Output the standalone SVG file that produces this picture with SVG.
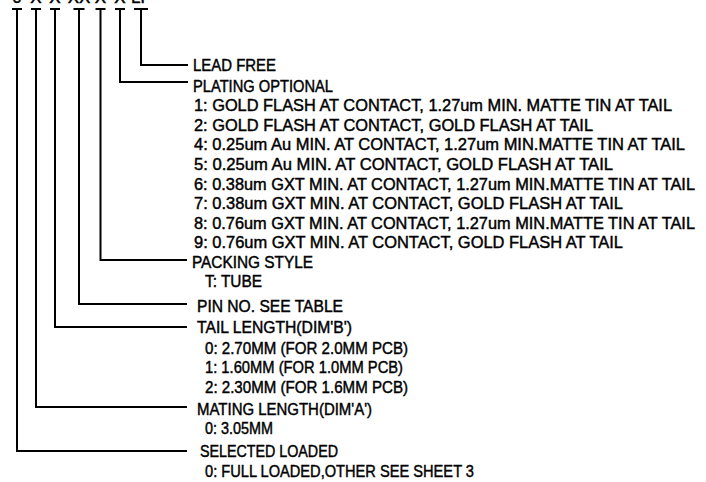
<svg xmlns="http://www.w3.org/2000/svg" width="706" height="482" viewBox="0 0 706 482">
<style>
  .t { font-family: "Liberation Sans", "DejaVu Sans", sans-serif; font-size: 17px; fill: #000; stroke: #000; stroke-width: 0.45px; }
  .c { fill: none; stroke: #000; stroke-width: 2; stroke-linecap: butt; }
</style>
<rect width="706" height="482" fill="#fff"/>
<g id="code">
  <text class="t" x="17" y="2.5" text-anchor="middle">0</text>
  <text class="t" x="36" y="2.5" text-anchor="middle">X</text>
  <text class="t" x="55" y="2.5" text-anchor="middle">X</text>
  <text class="t" x="79" y="2.5" text-anchor="middle">XX</text>
  <text class="t" x="100.5" y="2.5" text-anchor="middle">X</text>
  <text class="t" x="120" y="2.5" text-anchor="middle">X</text>
  <text class="t" x="141" y="2.5" text-anchor="middle">LF</text>
</g>
<g id="connectors">
  <path class="c" d="M12,9H22 M17,9V451H187"/>
  <path class="c" d="M31,9H41 M36,9V407H187"/>
  <path class="c" d="M50,9H60 M55,9V327H187"/>
  <path class="c" d="M73.5,9H84.5 M79,9V304H187"/>
  <path class="c" d="M95.5,9H105.5 M100.5,9V260H187"/>
  <path class="c" d="M115,9H125 M120,9V82H188"/>
  <path class="c" d="M134,9H148 M141,9V65H188"/>
</g>
<g id="lead-free">
  <text class="t" x="193" y="70.5" textLength="83" lengthAdjust="spacingAndGlyphs">LEAD FREE</text>
</g>
<g id="plating">
  <text class="t" x="193" y="92" textLength="140" lengthAdjust="spacingAndGlyphs">PLATING OPTIONAL</text>
  <text class="t" x="194" y="111" textLength="478" lengthAdjust="spacingAndGlyphs">1: GOLD FLASH AT CONTACT, 1.27um MIN. MATTE TIN AT TAIL</text>
  <text class="t" x="194" y="130.5" textLength="399" lengthAdjust="spacingAndGlyphs">2: GOLD FLASH AT CONTACT, GOLD FLASH AT TAIL</text>
  <text class="t" x="194" y="150" textLength="491" lengthAdjust="spacingAndGlyphs">4: 0.25um Au MIN. AT CONTACT, 1.27um MIN.MATTE TIN AT TAIL</text>
  <text class="t" x="194" y="170" textLength="419" lengthAdjust="spacingAndGlyphs">5: 0.25um Au MIN. AT CONTACT, GOLD FLASH AT TAIL</text>
  <text class="t" x="194" y="189.5" textLength="501" lengthAdjust="spacingAndGlyphs">6: 0.38um GXT MIN. AT CONTACT, 1.27um MIN.MATTE TIN AT TAIL</text>
  <text class="t" x="194" y="209" textLength="429" lengthAdjust="spacingAndGlyphs">7: 0.38um GXT MIN. AT CONTACT, GOLD FLASH AT TAIL</text>
  <text class="t" x="194" y="228.5" textLength="501" lengthAdjust="spacingAndGlyphs">8: 0.76um GXT MIN. AT CONTACT, 1.27um MIN.MATTE TIN AT TAIL</text>
  <text class="t" x="194" y="248" textLength="429" lengthAdjust="spacingAndGlyphs">9: 0.76um GXT MIN. AT CONTACT, GOLD FLASH AT TAIL</text>
</g>
<g id="packing">
  <text class="t" x="192" y="268" textLength="121" lengthAdjust="spacingAndGlyphs">PACKING STYLE</text>
  <text class="t" x="205" y="286.5" textLength="57" lengthAdjust="spacingAndGlyphs">T: TUBE</text>
</g>
<g id="pin-no">
  <text class="t" x="197" y="311.5" textLength="146" lengthAdjust="spacingAndGlyphs">PIN NO. SEE TABLE</text>
</g>
<g id="tail-length">
  <text class="t" x="197" y="332.5" textLength="155" lengthAdjust="spacingAndGlyphs">TAIL LENGTH(DIM'B')</text>
  <text class="t" x="205" y="353.5" textLength="203" lengthAdjust="spacingAndGlyphs">0: 2.70MM (FOR 2.0MM PCB)</text>
  <text class="t" x="205" y="373" textLength="198" lengthAdjust="spacingAndGlyphs">1: 1.60MM (FOR 1.0MM PCB)</text>
  <text class="t" x="205" y="392.5" textLength="203" lengthAdjust="spacingAndGlyphs">2: 2.30MM (FOR 1.6MM PCB)</text>
</g>
<g id="mating-length">
  <text class="t" x="197" y="415" textLength="175" lengthAdjust="spacingAndGlyphs">MATING LENGTH(DIM'A')</text>
  <text class="t" x="205" y="434" textLength="68" lengthAdjust="spacingAndGlyphs">0: 3.05MM</text>
</g>
<g id="selected-loaded">
  <text class="t" x="200" y="457" textLength="138" lengthAdjust="spacingAndGlyphs">SELECTED LOADED</text>
  <text class="t" x="205" y="476.5" textLength="269" lengthAdjust="spacingAndGlyphs">0: FULL LOADED,OTHER SEE SHEET 3</text>
</g>
</svg>
